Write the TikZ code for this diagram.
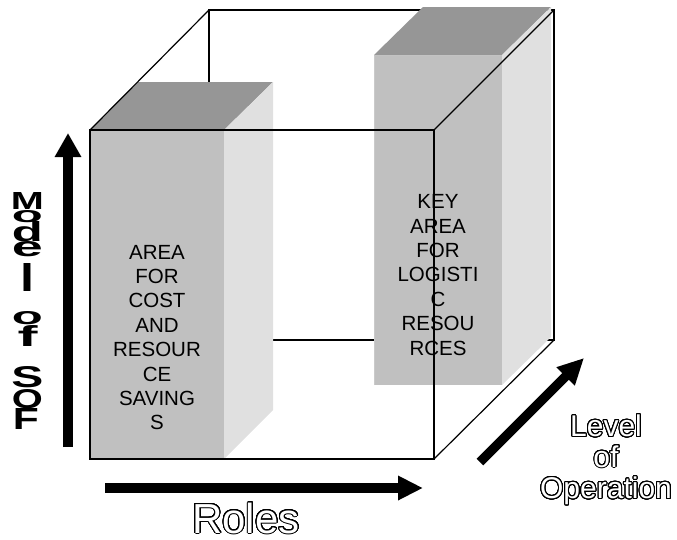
\documentclass[tikz,border=0pt]{standalone}
\usepackage{fontspec}
\setmainfont{Liberation Sans}
\usepackage{graphicx}
\usepackage{contour}
\usetikzlibrary{arrows.meta}
\definecolor{frontgray}{HTML}{C0C0C0}
\definecolor{topgray}{HTML}{969696}
\definecolor{sidegray}{HTML}{E0E0E0}
\definecolor{rimgray}{HTML}{CACACA}
\contourlength{1pt}
\contournumber{32}
\newcommand{\hollow}[1]{{\color{white}\contour{black}{#1}}}
\newcommand{\sqz}[3]{\resizebox{#1pt}{#2pt}{\bfseries #3}}
\begin{document}
\begin{tikzpicture}[x=1pt,y=-1pt,
  edge/.style={black, line width=1.2pt, line join=miter},
  fatarrow/.style={line width=9.5pt, -{Triangle[width=25pt,length=24pt]}},
  boxtext/.style={align=center, inner sep=0pt, font=\fontsize{20.5}{24.4}\selectfont},
  outl/.style={inner sep=0pt, anchor=base},
  letter/.style={inner sep=0pt, anchor=north}]
\useasboundingbox (0,0) rectangle (677,539);
% cube corners
\coordinate (F1) at (90,130); \coordinate (F2) at (434,130);
\coordinate (F3) at (434,459); \coordinate (F4) at (90,459);
\coordinate (B1) at (209,10); \coordinate (B2) at (554,10);
\coordinate (B3) at (554,340); \coordinate (B4) at (209,340);
% hidden / back edges
\draw[edge] (B1) -- (B2) -- (B3) -- (B4) -- cycle;
\draw[edge] (B4) -- (F4);
% left box
\fill[frontgray] (90,130) rectangle (224,459);
\fill[topgray] (90,130) -- (224,130) -- (273,82) -- (138,82) -- cycle;
\fill[sidegray] (224,130) -- (273,82) -- (273,410) -- (224,459) -- cycle;
% right box
\fill[frontgray] (374,55) rectangle (502,385);
\draw[rimgray, line width=1pt] (374.5,385) -- (374.5,55.5) -- (502,55.5);
\fill[topgray] (374,55) -- (502,55) -- (551,7) -- (423,7) -- cycle;
\fill[sidegray] (502,55) -- (551,7) -- (551,337) -- (502,385) -- cycle;
% box texts
\node[boxtext] (lefttext) at (157,337.6) {AREA\\FOR\\COST\\AND\\RESOUR\\CE\\SAVING\\S};
\node[boxtext] (righttext) at (438,275) {KEY\\AREA\\FOR\\LOGISTI\\C\\RESOU\\RCES};
% front edges
\draw[edge] (F1) rectangle (F3);
\draw[edge] (F1) -- (B1);
\draw[edge] (F2) -- (B2);
\draw[edge] (F3) -- (B3);
% arrows
\coordinate (vs) at (68,447); \coordinate (ve) at (68,133);
\coordinate (hs) at (105,488); \coordinate (he) at (423,488);
\coordinate (ds) at (480,462); \coordinate (de) at (584,358);
\draw[fatarrow] (vs) -- (ve);
\draw[fatarrow, -{Triangle[width=23pt,length=25pt]}] (hs) -- (he);
\draw[fatarrow, -{Triangle[width=24pt,length=26pt]}] (ds) -- (de);
% Roles
\node[outl, font=\fontsize{42}{44}\selectfont] (roles) at (246,533) {\hollow{Roles}};
% Level of Operation
\node[outl, font=\fontsize{30}{31}\selectfont] (lev1) at (606,436.5) {\hollow{Level}};
\node[outl, font=\fontsize{30}{31}\selectfont] (lev2) at (606,467) {\hollow{of}};
\node[outl, font=\fontsize{30}{31}\selectfont] (lev3) at (606,498.5) {\hollow{Operation}};
% Model of SOF
\node[letter] (m1) at (27.5,192) {\sqz{33}{17}{M}};
\node[letter] (m2) at (27.5,210) {\sqz{31}{12}{o}};
\node[letter] (m3) at (27.5,221) {\sqz{31}{20}{d}};
\node[letter] (m4) at (27.5,241) {\sqz{31}{15}{e}};
\node[letter] (m5) at (27,263) {\sqz{14}{28}{l}};
\node[letter] (m6) at (27.5,311) {\sqz{31}{13}{o}};
\node[letter] (m7) at (27.5,325) {\sqz{20}{21}{f}};
\node[letter] (m8) at (27.5,366) {\sqz{32}{21}{S}};
\node[letter] (m9) at (27.5,389) {\sqz{31}{19}{O}};
\node[letter] (m10) at (26,408) {\sqz{26}{21}{F}};
\end{tikzpicture}
\end{document}
